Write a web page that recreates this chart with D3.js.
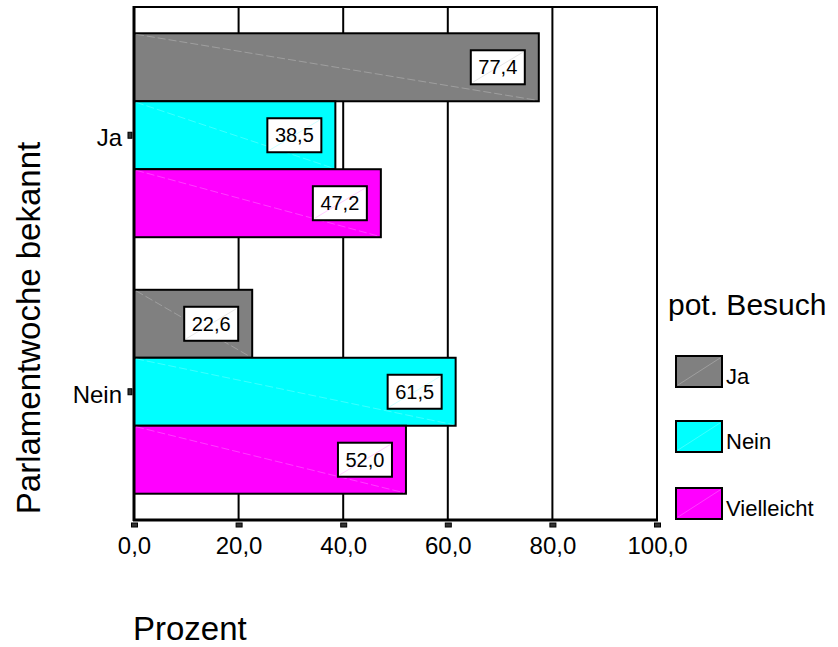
<!DOCTYPE html>
<meta charset="utf-8">
<style>
body { margin: 0; background: #fff; }
text { font-family: "Liberation Sans", Arial, sans-serif; fill: #000; }
.grid line { stroke: #000; stroke-width: 2px; }
.axis path, .axis line { display: none; }
</style>
<svg width="838" height="647"></svg>
<script src="https://d3js.org/d3.v7.min.js"></script>
<script>
// data
var categories = ["Ja", "Nein"];              // Parlamentwoche bekannt
var series = ["Ja", "Nein", "Vielleicht"];    // pot. Besuch
var besuchJa = [77.4, 22.6];
var besuchNein = [38.5, 61.5];
var besuchVielleicht = [47.2, 52.0];
var xTicks = [0, 20, 40, 60, 80, 100];
var colors = ["#808080", "#00ffff", "#ff00ff"];

var values = [besuchJa, besuchNein, besuchVielleicht];

var svg = d3.select("svg");
var plotL = 134, plotR = 657, plotT = 7, plotB = 520;

var de = d3.formatLocale({decimal: ",", thousands: ".", grouping: [3], currency: ["", " €"]});
var fmt = de.format(".1f");

var x = d3.scaleLinear().domain([0, 100]).range([plotL, plotR]);
var y = d3.scaleBand().domain(categories).range([plotT, plotB])
    .paddingInner(0.205).paddingOuter(0.1025);
var ys = d3.scaleBand().domain(series).range([0, y.bandwidth()]);

// gridlines
svg.append("g").attr("class", "grid")
  .selectAll("line")
  .data(xTicks.slice(1, -1))
  .enter().append("line")
    .attr("x1", d => x(d)).attr("x2", d => x(d))
    .attr("y1", plotT).attr("y2", plotB);

// frame
svg.append("rect")
    .attr("x", plotL).attr("y", plotT)
    .attr("width", plotR - plotL).attr("height", plotB - plotT)
    .attr("fill", "none").attr("stroke", "#000").attr("stroke-width", 2);

// bars
var rows = [];
categories.forEach(function(c, i) {
  series.forEach(function(s, j) {
    rows.push({cat: c, ser: s, v: values[j][i], color: colors[j]});
  });
});

var bar = svg.append("g").selectAll("g")
  .data(rows)
  .enter().append("g")
    .attr("transform", d => "translate(0," + (y(d.cat) + ys(d.ser)) + ")");

bar.append("rect")
    .attr("x", x(0))
    .attr("width", d => x(d.v) - x(0))
    .attr("height", ys.bandwidth())
    .attr("fill", d => d.color)
    .attr("stroke", "#000")
    .attr("stroke-width", 2);

// faint diagonal artefact lines
bar.append("line")
    .attr("x1", x(0) + 2).attr("y1", 1)
    .attr("x2", d => x(d.v) - 2).attr("y2", ys.bandwidth() - 1)
    .attr("stroke", "#fff").attr("stroke-opacity", 0.3)
    .attr("stroke-width", 0.8)
    .attr("stroke-dasharray", "8,3");

// value labels
var bw = 54, bh = 34;
bar.append("rect")
    .attr("x", d => x(d.v) - 14 - bw)
    .attr("y", (ys.bandwidth() - bh) / 2)
    .attr("width", bw).attr("height", bh)
    .attr("fill", "#fff").attr("stroke", "#000").attr("stroke-width", 2);

bar.append("line")
    .attr("x1", d => x(d.v) - 14 - bw + 2).attr("y1", (ys.bandwidth() + bh) / 2 - 2)
    .attr("x2", d => x(d.v) - 16).attr("y2", (ys.bandwidth() - bh) / 2 + 2)
    .attr("stroke", d => d.color).attr("stroke-opacity", 0.25)
    .attr("stroke-width", 0.8);

bar.append("text")
    .attr("x", d => x(d.v) - 14 - bw / 2)
    .attr("y", ys.bandwidth() / 2 + 7)
    .attr("text-anchor", "middle")
    .style("font-size", "20px")
    .text(d => fmt(d.v));

// thick left and bottom axis lines
svg.append("line").attr("x1", plotL).attr("x2", plotL).attr("y1", plotT - 1).attr("y2", plotB + 1)
    .attr("stroke", "#000").attr("stroke-width", 3);
svg.append("line").attr("x1", plotL - 1).attr("x2", plotR + 1).attr("y1", plotB).attr("y2", plotB)
    .attr("stroke", "#000").attr("stroke-width", 3);

// x axis
var xAxis = svg.append("g").attr("class", "axis")
    .attr("transform", "translate(0," + plotB + ")")
    .call(d3.axisBottom(x).tickValues(xTicks).tickSize(0).tickPadding(17).tickFormat(fmt));
xAxis.selectAll("text").style("font-size", "24px");
xAxis.selectAll(".tick").append("rect")
    .attr("x", -3).attr("y", 3).attr("width", 6).attr("height", 4)
    .attr("fill", "#333").attr("stroke", "#000").attr("stroke-width", 1);

// y axis
var yAxis = svg.append("g").attr("class", "axis")
    .attr("transform", "translate(" + plotL + ",0)")
    .call(d3.axisLeft(y).tickSize(0).tickPadding(12));
yAxis.selectAll("text").style("font-size", "24px").attr("dy", "0.45em");
yAxis.selectAll(".tick").append("rect")
    .attr("x", -6).attr("y", -3).attr("width", 4).attr("height", 6)
    .attr("fill", "#333").attr("stroke", "#000").attr("stroke-width", 1);

// axis titles
svg.append("text")
    .attr("transform", "translate(40," + 328 + ") rotate(-90)")
    .attr("text-anchor", "middle")
    .style("font-size", "33px")
    .text("Parlamentwoche bekannt");

svg.append("text")
    .attr("x", 133).attr("y", 640)
    .style("font-size", "33px")
    .text("Prozent");

// legend
var legend = svg.append("g");
legend.append("text")
    .attr("x", 668).attr("y", 315)
    .style("font-size", "30px")
    .text("pot. Besuch");

var item = legend.selectAll("g.item")
  .data(series)
  .enter().append("g").attr("class", "item")
    .attr("transform", (d, i) => "translate(676," + [356, 421, 488][i] + ")");

item.append("rect")
    .attr("width", 46).attr("height", 31)
    .attr("fill", (d, i) => colors[i])
    .attr("stroke", "#000").attr("stroke-width", 2);
item.append("line")
    .attr("x1", 2).attr("y1", 29).attr("x2", 44).attr("y2", 2)
    .attr("stroke", "#fff").attr("stroke-opacity", 0.3)
    .attr("stroke-width", 0.8);
item.append("text")
    .attr("x", 50).attr("y", 28)
    .style("font-size", "22px")
    .text(d => d);
</script>
